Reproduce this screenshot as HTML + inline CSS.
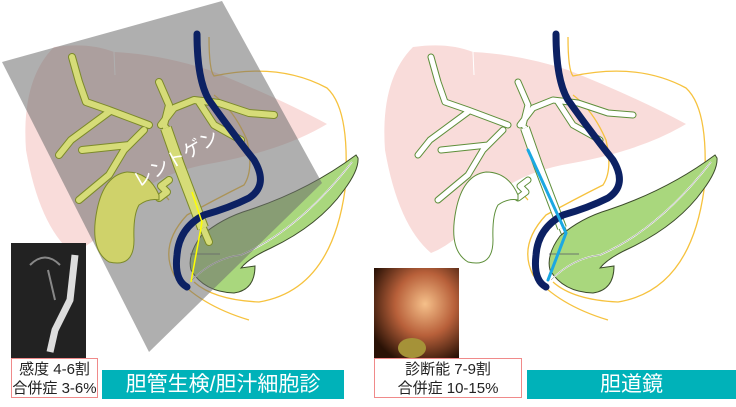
<!DOCTYPE html>
<html><head><meta charset="utf-8">
<style>
html,body{margin:0;padding:0;background:#fff;}
body{width:736px;height:407px;overflow:hidden;position:relative;font-family:"Liberation Sans","Noto Sans CJK JP",sans-serif;}
.box{position:absolute;background:#fff;border:1.5px solid #f08a8a;box-sizing:border-box;text-align:center;font-size:15px;line-height:19px;color:#222;padding-top:1px;}
.teal{position:absolute;background:#00b2b9;color:#fff;font-size:21px;text-align:center;line-height:30px;}
</style></head><body>
<svg width="736" height="407" viewBox="0 0 736 407" style="position:absolute;left:0;top:0">
<defs>
<g id="liver">
<path d="M45,47 Q80,42 105,52 Q150,54 200,70 Q270,98 318,124 Q275,150 205,163 Q150,172 122,200 Q92,242 63,253 Q30,225 17,150 Q12,80 45,47 Z" fill="#f9dcda"/>
<path d="M105,52 L106,75" stroke="#fff" stroke-width="1"/>
</g>
<path id="ducts" d="M157,128 L170,165 L194,228 L200,242 M140,125 L100,110 L77,102 L70,82 L63,57 M100,112 L62,140 L50,155 M135,130 L115,150 L100,175 L70,200 M120,145 L73,150 M155,125 L160,105 L150,82 M152,125 L165,108 L185,100 L210,103 L240,113 L265,115 M190,102 L205,125 L232,140 M160,180 L152,186 L158,192 L150,198"/>
<g id="duo" fill="none" stroke="#f6c23e" stroke-width="1.3">
<path d="M200,37 Q200,70 205,76 Q270,62 318,88 Q342,110 336,190 Q322,290 250,302 Q205,300 185,282"/>
<path d="M240,320 Q190,305 165,275 Q150,245 178,215 Q205,200 235,185 Q245,170 238,140 Q225,110 205,95"/>
<path d="M210,230 Q212,250 205,262 M160,200 Q150,190 160,182"/>
</g>
<g id="panc">
<path d="M347,155 Q300,190 240,210 Q213,218 192,236 Q178,255 182,270 Q195,292 225,293 Q246,290 246,266 L232,268 Q240,258 262,248 Q310,225 335,190 Q350,170 349,158 Z" fill="#a9d77d" stroke="#3b4a2a" stroke-width="1"/>
<path d="M183,280 Q205,258 232,255 Q290,230 343,162" fill="none" stroke="#fff" stroke-width="1.6"/>
<path d="M183,280 Q205,258 232,255 Q290,230 343,162" fill="none" stroke="#777" stroke-width="0.5"/>
<path d="M181,254 L211,254" stroke="#556" stroke-width="0.7"/>
</g>
<path id="gb" d="M150,195 Q140,172 118,172 Q95,175 88,210 Q80,250 100,262 Q125,268 125,240 Q124,215 130,205 Q140,198 150,200 Z"/>
<path id="scope" d="M188,34 Q188,80 200,100 Q225,135 245,160 Q260,185 240,198 Q220,208 195,215 Q170,228 168,255 Q165,280 178,287" fill="none" stroke="#0c2163" stroke-width="7" stroke-linecap="round"/>
</defs>

<!-- LEFT PANEL -->
<g transform="translate(9,0)">
<use href="#liver"/>
<use href="#duo"/>
<use href="#panc"/>
</g>
<polygon points="222,1 2,62 149,352 322,183" fill="rgba(110,110,110,0.55)"/>
<g transform="translate(9,0)">
<g fill="none" stroke="#7c8a2a" stroke-width="8" stroke-linecap="round" stroke-linejoin="round"><use href="#ducts"/></g>
<g fill="none" stroke="#d6dc78" stroke-width="6" stroke-linecap="round" stroke-linejoin="round"><use href="#ducts"/></g>
<path d="M157,128 L170,165 L194,228" fill="none" stroke="#7c8a2a" stroke-width="12"/>
<path d="M157,128 L170,165 L194,228" fill="none" stroke="#d6dc78" stroke-width="10"/>
<use href="#gb" fill="#cfd26a" stroke="#7c8a2a" stroke-width="1"/>
<use href="#scope"/>
<path d="M183,192 L193,222 L182,282" fill="none" stroke="#ffff00" stroke-width="1.5"/>
</g>
<text x="0" y="0" transform="translate(138,188) rotate(-30)" fill="#fff" font-size="19" font-family="Liberation Sans,Noto Sans CJK JP,sans-serif">レントゲン</text>

<!-- RIGHT PANEL -->
<g transform="translate(368,0)">
<use href="#liver"/>
<use href="#duo"/>
<g fill="none" stroke="#5e8f3a" stroke-width="7" stroke-linecap="round" stroke-linejoin="round"><use href="#ducts"/></g>
<g fill="none" stroke="#fff" stroke-width="5" stroke-linecap="round" stroke-linejoin="round"><use href="#ducts"/></g>
<path d="M157,128 L170,165 L194,228" fill="none" stroke="#5e8f3a" stroke-width="10"/>
<path d="M157,128 L170,165 L194,228" fill="none" stroke="#fff" stroke-width="8"/>
<use href="#gb" fill="#fff" stroke="#5e8f3a" stroke-width="1"/>
<use href="#panc"/>
<use href="#scope"/>
<path d="M160,150 L198,233 L180,280" fill="none" stroke="#1ba8e2" stroke-width="3" stroke-linecap="round"/>
</g>

<!-- x-ray inset -->
<rect x="11" y="243" width="75" height="115" fill="#222"/>
<path d="M75,255 L70,300 L55,330 L50,352" stroke="#ddd" stroke-width="7" fill="none"/>
<path d="M30,265 Q45,250 60,265 M48,270 L55,300" stroke="#888" stroke-width="2" fill="none"/>
<!-- photo inset -->
<defs><radialGradient id="ph" cx="0.6" cy="0.4" r="0.7"><stop offset="0" stop-color="#f5c08a"/><stop offset="0.5" stop-color="#b8603a"/><stop offset="1" stop-color="#2a1206"/></radialGradient></defs>
<rect x="374" y="268" width="85" height="90" fill="url(#ph)"/>
<ellipse cx="412" cy="348" rx="14" ry="10" fill="#a59238"/>
</svg>
<div class="box" style="left:11px;top:358px;width:87px;height:40px;">感度 4-6割<br>合併症 3-6%</div>
<div class="teal" style="left:102px;top:370px;width:242px;height:29px;">胆管生検/胆汁細胞診</div>
<div class="box" style="left:374px;top:358px;width:148px;height:40px;">診断能 7-9割<br>合併症 10-15%</div>
<div class="teal" style="left:527px;top:370px;width:209px;height:29px;">胆道鏡</div>
</body></html>
